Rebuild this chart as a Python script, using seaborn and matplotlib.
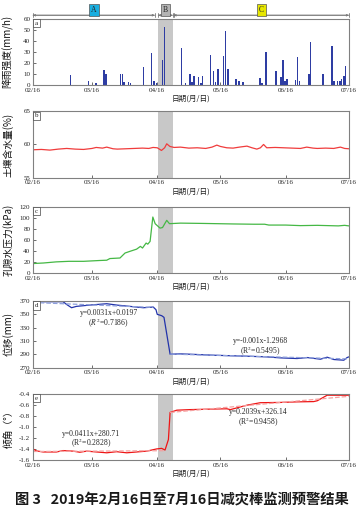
import numpy as np
import pandas as pd
import seaborn as sns
import matplotlib.pyplot as plt

sns.set_theme(style="ticks")
plt.rcParams["font.family"] = ["Liberation Serif", "Noto Sans CJK SC", "DejaVu Sans"]
plt.rcParams["mathtext.fontset"] = "stix"
CJK = ["Noto Sans CJK SC", "DejaVu Sans"]

# -------------------------------
# DATA (days since 02/16)
# -------------------------------
tick_days = [0, 28, 59, 89, 120, 150]
tick_labels = ["02/16", "03/16", "04/16", "05/16", "06/16", "07/16"]
band_days = [59.5, 66.3]

rain_day = [17.9, 26.3, 30.0, 33.6, 34.6, 41.6, 42.4, 43.3, 45.4, 46.3, 52.4, 56.3, 57.5, 58.7,
            61.4, 62.4, 70.5, 72.5, 74.6, 75.4, 76.5, 78.6, 79.7, 80.5, 84.4, 85.7, 86.7, 87.8,
            90.5, 91.4, 92.7, 96.5, 97.8, 99.7, 107.9, 108.7, 110.6, 115.5, 117.8, 118.7, 119.7,
            120.6, 124.7, 125.7, 126.6, 131.1, 131.9, 137.7, 141.9, 142.9, 144.7, 145.7, 146.6,
            147.6, 148.5]
rain_mm = [9, 4, 2, 13.5, 10, 10, 10, 3, 3, 2, 16, 28.5, 4, 1.5,
           22.5, 52, 33, 2, 10, 3, 8, 7, 2, 8, 27.5, 12.5, 3, 14.5,
           26, 49, 14.5, 5, 3.5, 3, 6.5, 1.5, 30, 13, 7, 22.5, 4,
           5, 4.5, 25, 4, 10, 39, 10, 35, 4, 4, 4, 5,
           8, 17]

soil_day = [0, 4, 8, 12, 16, 20, 24, 28, 30, 33, 35, 38, 40, 44, 48, 52, 55, 57, 59, 61, 62.5,
            63.5, 65, 67, 70, 74, 78, 82, 85, 87.3, 89, 92, 95, 98, 101.6, 104, 106.3, 108,
            109.5, 111, 115, 119, 123, 127, 130, 133, 135, 139, 142.8, 146, 148, 150]
soil_pct = [59.2, 59.25, 59.15, 59.3, 59.4, 59.3, 59.25, 59.4, 59.55, 59.45, 59.6, 59.35, 59.3,
            59.35, 59.4, 59.45, 59.4, 59.55, 59.5, 59.1, 59.5, 60.1, 59.7, 59.55, 59.6, 59.45,
            59.5, 59.4, 59.6, 59.9, 59.7, 59.5, 59.45, 59.6, 59.75, 59.5, 59.3, 59.5, 60.0,
            59.5, 59.55, 59.5, 59.45, 59.4, 59.6, 59.45, 59.4, 59.45, 59.4, 59.6, 59.4, 59.35]

pore_day = [0, 5, 11, 17, 24, 31.7, 35, 36.5, 41.3, 43.7, 46, 49.2, 51, 52, 53.7, 54.5, 55.6,
            56.9, 58, 60.3, 61.5, 63.5, 64.8, 70, 80, 95, 105, 110, 112, 120, 127, 135, 140,
            145, 148, 150]
pore_kpa = [17, 18, 20, 21, 21, 22.5, 23, 26, 27, 36, 39, 43, 48, 45, 54, 52, 57,
            101, 89, 81, 82, 95, 89, 90, 89.5, 88.5, 88, 88, 86.5, 86.5, 85.5, 86, 85.5,
            85, 86, 85]

disp_day = [0, 6.4, 14.3, 15.9, 18.3, 20.6, 27, 35, 39.7, 46, 52.4, 57.1, 58.4, 59, 61.1,
            62.2, 65.1, 69.8, 74.6, 85.7, 101.6, 111, 117.5, 125.4, 130.2, 136.5, 139.7,
            142.9, 147.6, 149.2, 150]
disp_mm = [369, 369, 369, 365, 360, 362, 364, 366, 364, 362, 360, 361, 357, 350, 348,
           345.5, 290, 290.5, 290, 288.5, 287, 286, 284.5, 283.5, 285, 282.5, 285.5,
           282, 281, 285, 286]

tilt_day = [0, 1.5, 4.8, 11.1, 14.3, 19, 22.2, 25.4, 30.2, 35, 39.7, 44.5, 49.2, 54, 58.7,
            61.1, 62.7, 64.3, 65.1, 68.3, 74.6, 85, 92.1, 93.7, 101.6, 108, 117.5, 125.4,
            133.3, 135, 139.7, 150]
tilt_deg = [-1.40, -1.435, -1.455, -1.455, -1.43, -1.44, -1.46, -1.44, -1.455, -1.47, -1.45,
            -1.47, -1.455, -1.44, -1.40, -1.39, -1.42, -1.23, -0.74, -0.70, -0.69, -0.68,
            -0.675, -0.69, -0.61, -0.565, -0.56, -0.55, -0.545, -0.53, -0.43, -0.43]

# -------------------------------
# FIGURE
# -------------------------------
fig = plt.figure(figsize=(3.63, 5.15), dpi=100)
bottoms = [0.835, 0.655, 0.470, 0.2864, 0.1068]
axes = [fig.add_axes([0.091, b, 0.870, 0.129]) for b in bottoms]

ylabels = ["降雨强度(mm/h)", "土壤含水量(%)", "孔隙水压力(kPa)", "位移(mm)", "倾角（°）"]
ylims = [(0, 60), (55, 65), (0, 120), (270, 370), (-1.6, -0.4)]
yticks = [np.arange(0, 61, 10), [55, 60, 65], np.arange(0, 121, 20),
          np.arange(270, 371, 20), np.round(np.arange(-1.6, -0.39, 0.2), 1)]

for ax, yt, letter in zip(axes, yticks, "abcde"):
    ax.axvspan(*band_days, color="#c8c8c8", lw=0, zorder=0)
    ax.set_xticks(tick_days)
    ax.set_xticklabels(tick_labels)
    ax.set_yticks(yt)
    if letter == "e":
        ax.set_yticklabels([f"{v:.1f}" for v in yt])
    ax.tick_params(direction="in", length=2, width=0.6, labelsize=5, pad=2,
                   colors="#555555", labelcolor="#222222")
    for s in ax.spines.values():
        s.set_color("#808080")
        s.set_linewidth(0.8)
    ax.text(0.006, 0.93, letter, transform=ax.transAxes, fontsize=5, ha="left", va="center",
            bbox=dict(boxstyle="square,pad=0.25", fc="white", ec="#444444", lw=0.5))

# a) rainfall
ax = axes[0]
ax.bar(rain_day, rain_mm, width=0.7, color="#2e3da3", lw=0, zorder=2)

stages = [("A", 0, 57.8, "#19aee0"), ("B", band_days[0], band_days[1], "#b4b4b4"),
          ("C", 66.8, 150, "#e6e600")]
trans = ax.get_xaxis_transform()
for name, x0, x1, fc in stages:
    ax.annotate("", xy=(x0, 1.05), xytext=(x1, 1.05), xycoords=trans, textcoords=trans,
                arrowprops=dict(arrowstyle="|-|", color="#777777", lw=0.6,
                                mutation_scale=1.5, shrinkA=0, shrinkB=0))
    ax.annotate("", xy=(x0, 1.05), xytext=(x1, 1.05), xycoords=trans, textcoords=trans,
                arrowprops=dict(arrowstyle="<->", color="#777777", lw=0.6,
                                mutation_scale=3, shrinkA=0, shrinkB=0))
    ax.text((x0 + x1) / 2, 1.125, name, transform=trans, fontsize=5.5, ha="center",
            va="center", bbox=dict(boxstyle="square,pad=0.25", fc=fc, ec="#555555", lw=0.5))

# b) soil moisture
sns.lineplot(x=soil_day, y=soil_pct, color="#f03c3c", lw=0.9, ax=axes[1])

# c) pore water pressure
sns.lineplot(x=pore_day, y=pore_kpa, color="#45b845", lw=0.9, ax=axes[2])

# d) displacement with linear fits
disp = pd.DataFrame({"day": disp_day, "mm": disp_mm})
sns.lineplot(data=disp, x="day", y="mm", color="#2233aa", lw=0.9, ax=axes[3])
for part in [disp[disp.day <= 58], disp[disp.day >= 65]]:
    sns.regplot(data=part, x="day", y="mm", scatter=False, ci=None, ax=axes[3],
                line_kws=dict(color="#8ea0dc", ls="--", lw=0.9))
axes[3].text(36, 351.4, "y=0.0031x+0.0197", fontsize=5.5, ha="center", va="center")
axes[3].text(36, 336.2, "($R^2$=0.7186)", fontsize=5.5, ha="center", va="center")
axes[3].text(108, 310.5, "y=-0.001x-1.2968", fontsize=5.5, ha="center", va="center")
axes[3].text(108, 293.8, "(R$^2$=0.5495)", fontsize=5.5, ha="center", va="center")

# e) tilt angle with linear fits
tilt = pd.DataFrame({"day": tilt_day, "deg": tilt_deg})
sns.lineplot(data=tilt, x="day", y="deg", color="#ee1515", lw=0.9, ax=axes[4])
for part in [tilt[tilt.day <= 62.7], tilt[tilt.day >= 65]]:
    sns.regplot(data=part, x="day", y="deg", scatter=False, ci=None, ax=axes[4],
                line_kws=dict(color="#f5a0a0", ls="--", lw=0.9))
axes[4].text(27.5, -1.125, "y=0.0411x+280.71", fontsize=5.5, ha="center", va="center")
axes[4].text(27.5, -1.307, "(R$^2$=0.2828)", fontsize=5.5, ha="center", va="center")
axes[4].text(107, -0.742, "y=0.2039x+326.14", fontsize=5.5, ha="center", va="center")
axes[4].text(107, -0.925, "(R$^2$=0.9458)", fontsize=5.5, ha="center", va="center")

for ax, lab, yl in zip(axes, ylabels, ylims):
    ax.set_xlim(0, 150)
    ax.set_ylim(*yl)
    ax.set_ylabel(lab, fontsize=7, family=CJK, color="#111111")
    ax.yaxis.set_label_coords(-0.062, 0.5)
    ax.set_xlabel("日期(月/日)", fontsize=5.5, family=CJK, color="#222222")
    ax.xaxis.set_label_coords(0.5, -0.15)

fig.text(0.5, 0.031, "图 3   2019年2月16日至7月16日减灾棒监测预警结果", fontsize=10.3,
         fontweight="bold", family=CJK, ha="center", va="center", color="#1a1a1a")

fig.savefig("out.png", dpi=100)
